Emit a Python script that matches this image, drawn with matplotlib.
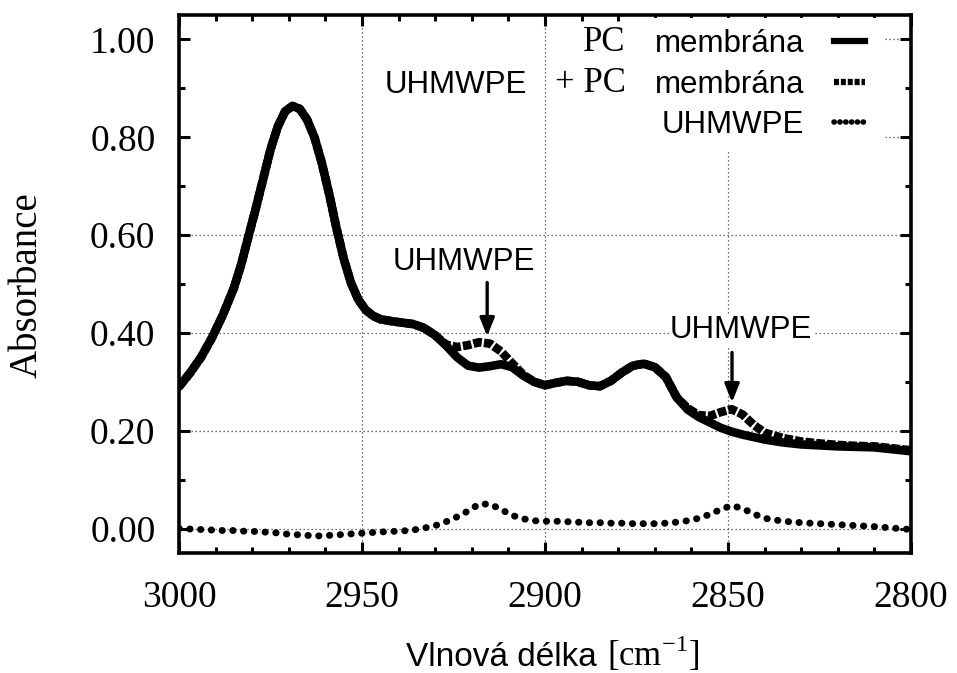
import matplotlib
matplotlib.use("Agg")
import matplotlib.pyplot as plt
from matplotlib.lines import Line2D
from matplotlib.ticker import MultipleLocator, FormatStrFormatter

# Wavenumber grid [cm^-1]
wavenumber = [3000, 2997, 2994, 2991, 2988, 2985, 2983, 2981, 2979, 2977,
              2975, 2973, 2971, 2969, 2967, 2965, 2963, 2961, 2959, 2957,
              2955, 2953, 2951, 2949, 2947, 2945,
              2942, 2939, 2936, 2933, 2930, 2927, 2924, 2921, 2918, 2915,
              2912, 2909, 2906, 2903, 2900, 2897, 2894, 2891, 2888, 2885,
              2882, 2879, 2876, 2873, 2870, 2867, 2864, 2861, 2858, 2855,
              2852, 2849, 2846, 2843, 2840, 2835, 2830, 2825, 2820, 2815,
              2810, 2805, 2800]

# PC membrane alone
pc_membrane = [0.290, 0.318, 0.350, 0.390, 0.437, 0.492, 0.540, 0.598, 0.655, 0.715,
               0.775, 0.822, 0.853, 0.864, 0.858, 0.836, 0.800, 0.748, 0.685, 0.615,
               0.552, 0.502, 0.468, 0.447, 0.435, 0.428,
               0.424, 0.421, 0.418, 0.410, 0.395, 0.374, 0.350, 0.333, 0.329, 0.332,
               0.336, 0.330, 0.313, 0.300, 0.293, 0.298, 0.302, 0.300, 0.293, 0.291,
               0.302, 0.319, 0.333, 0.337, 0.330, 0.310, 0.268, 0.243, 0.228, 0.217,
               0.206, 0.198, 0.192, 0.187, 0.182, 0.176, 0.172, 0.170, 0.168, 0.167,
               0.166, 0.162, 0.158]

# UHMWPE deposited on the PC membrane
uhmwpe_pc = [0.290, 0.318, 0.350, 0.390, 0.437, 0.492, 0.540, 0.598, 0.655, 0.715,
             0.775, 0.822, 0.853, 0.864, 0.858, 0.836, 0.800, 0.748, 0.685, 0.615,
             0.552, 0.502, 0.468, 0.447, 0.435, 0.428,
             0.424, 0.421, 0.418, 0.410, 0.395, 0.376, 0.371, 0.375, 0.381, 0.378,
             0.362, 0.338, 0.315, 0.300, 0.293, 0.298, 0.302, 0.300, 0.293, 0.291,
             0.302, 0.319, 0.333, 0.337, 0.330, 0.310, 0.268, 0.246, 0.232, 0.230,
             0.238, 0.244, 0.233, 0.212, 0.196, 0.185, 0.178, 0.174, 0.171, 0.169,
             0.168, 0.164, 0.160]

# UHMWPE (difference spectrum)
uhmwpe = [0.000, -0.001, -0.002, -0.003, -0.004, -0.004, -0.005, -0.006, -0.006, -0.007,
          -0.008, -0.009, -0.011, -0.012, -0.013, -0.014, -0.015, -0.015, -0.014, -0.013,
          -0.012, -0.011, -0.010, -0.009, -0.008, -0.007,
          -0.006, -0.005, -0.003, 0.001, 0.006, 0.014, 0.024, 0.036, 0.050, 0.050,
          0.039, 0.027, 0.020, 0.016, 0.015, 0.015, 0.014, 0.013, 0.012, 0.012,
          0.011, 0.011, 0.010, 0.010, 0.010, 0.011, 0.013, 0.016, 0.021, 0.029,
          0.039, 0.047, 0.041, 0.030, 0.021, 0.015, 0.012, 0.010, 0.008, 0.006,
          0.004, 0.001, -0.002]

# Marked UHMWPE bands: label centre, arrow tail, arrow tip
band_labels = [((2922.1, 0.544), (2915.8, 0.503), (2915.8, 0.393)),
               ((2846.4, 0.405), (2848.9, 0.360), (2848.9, 0.258))]

SERIF = "Liberation Serif"
SANS = "Liberation Sans"
plt.rcParams["mathtext.fontset"] = "custom"
plt.rcParams["mathtext.rm"] = SERIF

W, H = 957, 673
fig = plt.figure(figsize=(W / 100, H / 100), dpi=100)
ax = fig.add_axes([179 / W, 1 - 553 / H, (911 - 179) / W, (553 - 15) / H])

ax.set_xlim(3000, 2800)
ax.set_ylim(-0.05, 1.05)

# dotted grid; the two top rows are hidden behind the key
grid_kw = dict(color="0.25", lw=0.9, ls=(0, (1, 2.2)), zorder=0.5)
for gx in (2950, 2900, 2850):
    ax.axvline(gx, **grid_kw)
for gy in (0.0, 0.2, 0.4, 0.6):
    ax.axhline(gy, **grid_kw)
for gy in (0.8, 1.0):
    ax.axhline(gy, xmin=0.964, xmax=1.0, **grid_kw)

ax.plot(wavenumber, pc_membrane, color="black", lw=6.2, solid_capstyle="round",
        solid_joinstyle="round", zorder=2)
ax.plot(wavenumber, uhmwpe_pc, color="black", lw=6.2, ls=(0, (1.0, 0.25)),
        zorder=2.1)
ax.plot(wavenumber, uhmwpe, color="black", lw=5.0, ls=(0, (0.05, 1.5)),
        dash_capstyle="round", zorder=2.2)

# axis styling
for sp in ax.spines.values():
    sp.set_linewidth(2.6)
ax.xaxis.set_major_locator(MultipleLocator(50))
ax.xaxis.set_minor_locator(MultipleLocator(10))
ax.yaxis.set_major_locator(MultipleLocator(0.2))
ax.yaxis.set_minor_locator(MultipleLocator(0.1))
ax.yaxis.set_major_formatter(FormatStrFormatter("%.2f"))
ax.tick_params(which="both", direction="in", top=True, right=True, width=2.2)
ax.tick_params(which="major", length=8)
ax.tick_params(which="minor", length=4)
ax.tick_params(axis="x", which="major", pad=20)
ax.tick_params(axis="y", which="major", pad=17)
for lab in ax.get_xticklabels() + ax.get_yticklabels():
    lab.set_fontfamily(SERIF)
    lab.set_fontsize(27)

# axis titles
fig.text(27 / W, 1 - 285 / H, "Absorbance", rotation=90, ha="center", va="center",
         family=SERIF, fontsize=28)
fig.text(597 / W, 1 - 666 / H, "Vlnová délka", ha="right", va="baseline",
         family=SANS, fontsize=24)
fig.text(607 / W, 1 - 666 / H, r"[cm$^{\mathrm{-1}}$]", ha="left", va="baseline",
         family=SERIF, fontsize=25)

# key: sans labels with line samples to the right
SANS_SIZE = 22.5
handles = [Line2D([], [], color="black", lw=4.5),
           Line2D([], [], color="black", lw=4.5, ls=(0, (0.8, 0.3))),
           Line2D([], [], color="black", lw=4.0, ls=(0, (0.05, 1.0)),
                  dash_capstyle="round")]
leg = ax.legend(handles, ["membrána", "membrána", "UHMWPE"], markerfirst=False,
                loc="upper right", bbox_to_anchor=((876 - 179) / 732, (553 - 18) / 538),
                borderaxespad=0, borderpad=0.35, frameon=True, fancybox=False,
                facecolor="white", edgecolor="none", framealpha=1,
                handlelength=1.0, handletextpad=0.95, labelspacing=0.34,
                prop={"family": SANS, "size": SANS_SIZE})
leg.set_zorder(5)
texts = leg.get_texts()
pc1 = ax.annotate("PC", xy=(0, 0), xycoords=texts[0], xytext=(-21, 0),
                  textcoords="offset points", ha="right", va="bottom",
                  family=SERIF, fontsize=25, zorder=6)
pc2 = ax.annotate("+ PC", xy=(0, 0), xycoords=texts[1], xytext=(-21, 0),
                  textcoords="offset points", ha="right", va="bottom",
                  family=SERIF, fontsize=25, zorder=6)
ax.annotate("UHMWPE", xy=(0, 0), xycoords=pc2, xytext=(-20, 0),
            textcoords="offset points", ha="right", va="bottom",
            family=SANS, fontsize=SANS_SIZE, zorder=6)

# band markers
for (lx, ly), tail, tip in band_labels:
    ax.text(lx, ly, "UHMWPE", ha="center", va="center", family=SANS,
            fontsize=SANS_SIZE, zorder=4,
            bbox=dict(facecolor="white", edgecolor="none", pad=1))
    ax.annotate("", xy=tip, xytext=tail,
                arrowprops=dict(arrowstyle="-|>,head_length=0.55,head_width=0.22",
                                color="black", lw=2.4, shrinkA=0, shrinkB=0,
                                mutation_scale=20), zorder=4)

fig.savefig("out.png", dpi=100)
